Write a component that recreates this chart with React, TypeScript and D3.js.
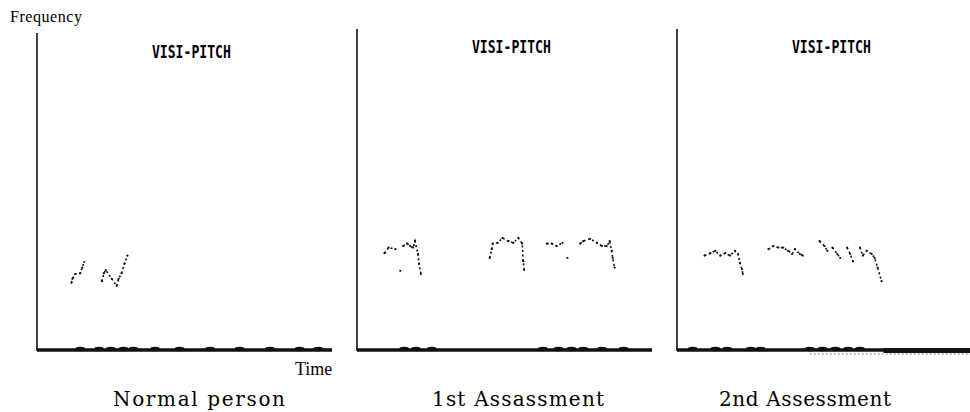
import React, { useRef, useEffect } from "react";
import * as d3 from "d3";

// Visi-Pitch traces, [time (s), frequency (Hz)]
const panelTitles = ["VISI-PITCH", "VISI-PITCH", "VISI-PITCH"];
const panelLabels = ["Normal person", "1st Assassment", "2nd Assessment"];

const normalTrace = [
  [[0.35, 84], [0.36, 89], [0.39, 95], [0.44, 96], [0.46, 103], [0.48, 110]],
  [[0.66, 86], [0.68, 96], [0.70, 100], [0.76, 89], [0.81, 80], [0.83, 89], [0.86, 96], [0.89, 108], [0.92, 118]],
];

const firstTrace = [
  [[0.28, 121], [0.32, 128], [0.39, 126]],
  [[0.44, 99]],
  [[0.47, 130], [0.51, 133], [0.54, 130], [0.57, 128], [0.59, 136], [0.62, 120], [0.63, 108], [0.65, 95]],
  [[1.35, 115], [1.37, 126], [1.38, 133], [1.43, 134], [1.48, 140], [1.54, 136], [1.59, 134], [1.64, 140], [1.68, 133], [1.69, 111], [1.70, 100]],
  [[1.93, 133], [1.98, 133], [2.03, 130], [2.09, 134]],
  [[2.14, 115]],
  [[2.27, 133], [2.30, 136], [2.37, 139], [2.44, 134], [2.49, 130], [2.54, 130], [2.57, 136], [2.59, 124], [2.60, 115], [2.62, 103]],
];

const secondTrace = [
  [[0.28, 118], [0.34, 121], [0.39, 124], [0.44, 118], [0.49, 121], [0.54, 118], [0.59, 124], [0.62, 120], [0.64, 109], [0.66, 101], [0.67, 95]],
  [[0.93, 126], [0.98, 130], [1.03, 128], [1.08, 128], [1.13, 124], [1.17, 120], [1.20, 126], [1.25, 120], [1.28, 118]],
  [[1.45, 136], [1.50, 130], [1.53, 124]],
  [[1.58, 128], [1.63, 120], [1.66, 115]],
  [[1.73, 128], [1.76, 120], [1.79, 111]],
  [[1.86, 128], [1.89, 118], [1.93, 124], [1.98, 120], [2.01, 115], [2.04, 103], [2.08, 86]],
];

// small noise bumps on the floor line (time, s)
const normalNoise = [0.44, 0.63, 0.75, 0.88, 0.98, 1.2, 1.45, 1.76, 2.06, 2.37, 2.67, 2.86];
const firstNoise = [0.48, 0.6, 0.76, 1.89, 2.05, 2.18, 2.3, 2.49, 2.71];
const secondNoise = [0.16, 0.39, 0.51, 0.75, 0.85, 1.35, 1.48, 1.61, 1.74, 1.86];

const traces = [normalTrace, firstTrace, secondTrace];
const noises = [normalNoise, firstNoise, secondNoise];

const W = 970;
const H = 412;

const panels = [
  { left: 37, top: 33, titleY: 58, labelX: 199 },
  { left: 357, top: 29, titleY: 53, labelX: 518 },
  { left: 677, top: 29, titleY: 53, labelX: 805 },
];

const App = () => {
  const svgRef = useRef<SVGSVGElement>(null);

  useEffect(() => {
    const svg = d3.select(svgRef.current);
    svg.selectAll("*").remove();

    const yScale = d3.scaleLinear().domain([0, 400]).range([350, 30]);

    svg.append("text")
      .attr("x", 10).attr("y", 22)
      .attr("font-family", "Liberation Serif").attr("font-size", 16)
      .attr("textLength", 72)
      .text("Frequency");

    panels.forEach((p, i) => {
      const xScale = d3.scaleLinear().domain([0, 3]).range([p.left, p.left + 295]);
      const g = svg.append("g");

      // floor line + noise
      g.append("line")
        .attr("x1", xScale(0)).attr("x2", xScale(3))
        .attr("y1", yScale(0)).attr("y2", yScale(0))
        .attr("stroke", "#111").attr("stroke-width", 3.5);

      g.selectAll("ellipse.bump")
        .data(noises[i])
        .enter()
        .append("ellipse")
        .attr("cx", d => xScale(d))
        .attr("cy", yScale(0) - 1)
        .attr("rx", 5).attr("ry", 2.2)
        .attr("fill", "#111");

      if (i === 2) {
        g.append("line")
          .attr("x1", xScale(2.1)).attr("x2", xScale(3))
          .attr("y1", yScale(0) + 0.5).attr("y2", yScale(0) + 0.5)
          .attr("stroke", "#111").attr("stroke-width", 5);
        g.append("line")
          .attr("x1", xScale(1.35)).attr("x2", xScale(3))
          .attr("y1", yScale(0) + 4).attr("y2", yScale(0) + 4)
          .attr("stroke", "#888").attr("stroke-width", 1)
          .attr("stroke-dasharray", "2 2");
      }

      // frequency axis
      g.append("line")
        .attr("x1", p.left).attr("x2", p.left)
        .attr("y1", p.top).attr("y2", yScale(0) + 1)
        .attr("stroke", "#111").attr("stroke-width", 1.6);

      g.append("text")
        .attr("x", xScale(1.57)).attr("y", p.titleY)
        .attr("text-anchor", "middle")
        .attr("font-family", "DejaVu Sans Mono").attr("font-weight", "bold")
        .attr("font-size", 18)
        .attr("textLength", 79).attr("lengthAdjust", "spacingAndGlyphs")
        .text(panelTitles[i]);

      const line = d3.line()
        .x(d => xScale(d[0]))
        .y(d => yScale(d[1]));

      traces[i].forEach(seg => {
        g.append("path")
          .attr("d", line(seg as [number, number][]))
          .attr("fill", "none")
          .attr("stroke", "#111").attr("stroke-width", 1.6)
          .attr("stroke-dasharray", "2 2.5");
        g.selectAll(null)
          .data(seg)
          .enter()
          .append("circle")
          .attr("cx", d => xScale(d[0]))
          .attr("cy", d => yScale(d[1]))
          .attr("r", 1.1)
          .attr("fill", "#111");
      });

      g.append("text")
        .attr("x", p.labelX).attr("y", 406)
        .attr("text-anchor", "middle")
        .attr("font-family", "DejaVu Serif").attr("font-size", 20)
        .attr("textLength", 172).attr("lengthAdjust", "spacing")
        .text(panelLabels[i]);

      if (i === 0) {
        g.append("text")
          .attr("x", 295).attr("y", 375)
          .attr("font-family", "Liberation Serif").attr("font-size", 18)
          .text("Time");
      }
    });
  }, []);

  return (
    <svg
      ref={svgRef}
      width={W}
      height={H}
      style={{ position: "absolute", left: 0, top: 0, background: "#fff" }}
    />
  );
};

export default App;
